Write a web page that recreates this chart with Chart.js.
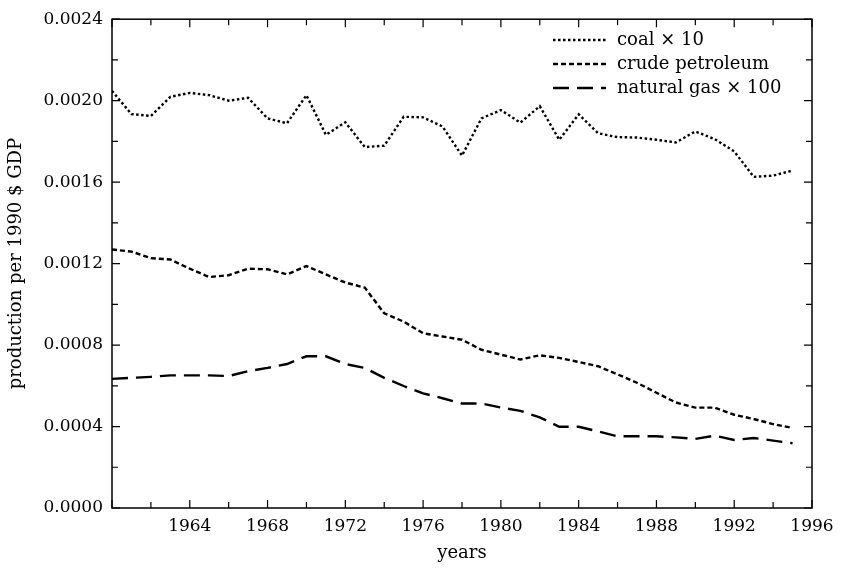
<!DOCTYPE html>
<html>
<head>
<meta charset="utf-8">
<script src="https://cdn.jsdelivr.net/npm/chart.js@4/dist/chart.umd.min.js"></script>
<style>
  html, body { margin: 0; padding: 0; background: #fff; }
  #wrap { width: 844px; height: 570px; }
</style>
</head>
<body>
<div id="wrap"><canvas id="chart" width="844" height="570"></canvas></div>
<script>
// data
const years = [1960, 1961, 1962, 1963, 1964, 1965, 1966, 1967, 1968, 1969,
               1970, 1971, 1972, 1973, 1974, 1975, 1976, 1977, 1978, 1979,
               1980, 1981, 1982, 1983, 1984, 1985, 1986, 1987, 1988, 1989,
               1990, 1991, 1992, 1993, 1994, 1995];

const coal = [0.002048, 0.001934, 0.001925, 0.002019, 0.002038, 0.002027, 0.002000, 0.002014, 0.001913, 0.001889,
              0.002027, 0.001832, 0.001894, 0.001772, 0.001779, 0.001921, 0.001918, 0.001873, 0.001730, 0.001913,
              0.001954, 0.001892, 0.001973, 0.001808, 0.001933, 0.001840, 0.001821, 0.001819, 0.001808, 0.001795,
              0.001849, 0.001811, 0.001751, 0.001626, 0.001632, 0.001657];

const crude = [0.001269, 0.001259, 0.001227, 0.001220, 0.001175, 0.001134, 0.001143, 0.001175, 0.001172, 0.001147,
               0.001188, 0.001147, 0.001107, 0.001082, 0.000956, 0.000915, 0.000858, 0.000842, 0.000826, 0.000777,
               0.000753, 0.000729, 0.000750, 0.000737, 0.000717, 0.000696, 0.000656, 0.000615, 0.000566, 0.000518,
               0.000493, 0.000493, 0.000458, 0.000437, 0.000412, 0.000393];

const gas = [0.000634, 0.000639, 0.000644, 0.000651, 0.000651, 0.000651, 0.000648, 0.000672, 0.000688, 0.000707,
             0.000745, 0.000745, 0.000707, 0.000688, 0.000639, 0.000599, 0.000563, 0.000539, 0.000513, 0.000513,
             0.000493, 0.000477, 0.000445, 0.000399, 0.000399, 0.000376, 0.000352, 0.000352, 0.000352, 0.000347,
             0.000339, 0.000355, 0.000334, 0.000344, 0.000331, 0.000318];

const seriesNames = ['coal \u00d7 10', 'crude petroleum', 'natural gas \u00d7 100'];
const seriesDash = [[2.5, 2.5], [5, 3], [16, 8]];

const FONT = "'DejaVu Serif', 'Liberation Serif', serif";

function toPoints(vals) {
    return vals.map((v, i) => ({ x: years[i], y: v }));
}

// frame + inward ticks on all four sides, and the legend
const framePlugin = {
    id: 'frame',
    afterDraw(chart) {
        const ctx = chart.ctx;
        const a = chart.chartArea;
        const xs = chart.scales.x, ys = chart.scales.y;
        ctx.save();
        ctx.strokeStyle = '#000';
        ctx.lineWidth = 1.5;
        ctx.setLineDash([]);
        ctx.strokeRect(a.left, a.top, a.right - a.left, a.bottom - a.top);
        ctx.lineWidth = 1.2;
        ctx.beginPath();
        xs.ticks.forEach(t => {
            const px = xs.getPixelForValue(t.value);
            const len = (t.value % 4 === 0) ? 8 : 6;
            ctx.moveTo(px, a.bottom); ctx.lineTo(px, a.bottom - len);
            ctx.moveTo(px, a.top); ctx.lineTo(px, a.top + len);
        });
        ys.ticks.forEach(t => {
            const py = ys.getPixelForValue(t.value);
            const len = (Math.round(t.value * 10000) % 4 === 0) ? 8 : 6;
            ctx.moveTo(a.left, py); ctx.lineTo(a.left + len, py);
            ctx.moveTo(a.right, py); ctx.lineTo(a.right - len, py);
        });
        ctx.stroke();

        ctx.font = '18px ' + FONT;
        ctx.textBaseline = 'middle';
        ctx.fillStyle = '#000';
        ctx.lineWidth = 2.4;
        seriesNames.forEach((name, i) => {
            const y = 40 + i * 24;
            ctx.setLineDash(seriesDash[i]);
            ctx.beginPath();
            ctx.moveTo(553, y);
            ctx.lineTo(606, y);
            ctx.stroke();
            ctx.fillText(name, 617, y);
        });
        ctx.restore();
    }
};

new Chart(document.getElementById('chart'), {
    type: 'line',
    data: {
        datasets: [coal, crude, gas].map((vals, i) => ({
            label: seriesNames[i],
            data: toPoints(vals),
            borderColor: '#000',
            borderWidth: 2.4,
            borderDash: seriesDash[i],
            pointRadius: 0,
            tension: 0,
            fill: false
        }))
    },
    options: {
        responsive: false,
        animation: false,
        layout: { padding: { top: 10, right: 32, bottom: 4, left: 0 } },
        plugins: {
            legend: { display: false },
            tooltip: { enabled: false }
        },
        scales: {
            x: {
                type: 'linear',
                min: 1960,
                max: 1996,
                grid: { display: false, drawTicks: false },
                border: { display: false },
                afterFit: s => { s.height = 570 - 508 - 4; },
                ticks: {
                    stepSize: 2,
                    padding: 8,
                    color: '#000',
                    font: { family: FONT, size: 17 },
                    maxRotation: 0,
                    autoSkip: false,
                    callback: v => (v % 4 === 0 && v !== 1960) ? String(v) : ''
                },
                title: {
                    display: true,
                    text: 'years',
                    color: '#000',
                    font: { family: FONT, size: 18 },
                    padding: { top: 0, bottom: 2 }
                }
            },
            y: {
                min: 0,
                max: 0.0024,
                grid: { display: false, drawTicks: false },
                border: { display: false },
                afterFit: s => { s.width = 112; },
                ticks: {
                    stepSize: 0.0002,
                    padding: 9,
                    color: '#000',
                    font: { family: FONT, size: 17 },
                    autoSkip: false,
                    callback: v => (Math.round(v * 10000) % 4 === 0) ? v.toFixed(4) : ''
                },
                title: {
                    display: true,
                    text: 'production per 1990 $ GDP',
                    color: '#000',
                    font: { family: FONT, size: 18 },
                    padding: { top: 6, bottom: 4 }
                }
            }
        }
    },
    plugins: [framePlugin]
});
</script>
</body>
</html>
